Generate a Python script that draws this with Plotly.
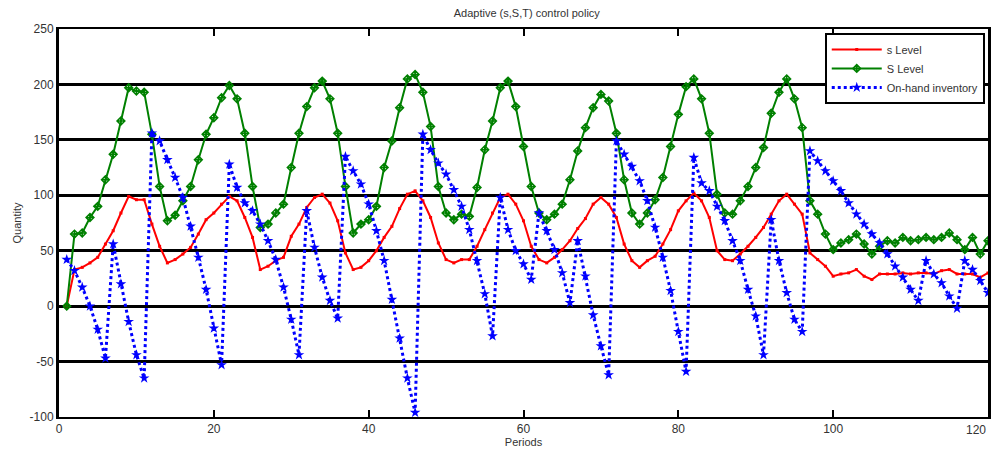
import plotly.graph_objects as go

periods = list(range(1, 121))

s_level = [0, 33, 35, 39, 44, 56, 68, 84, 99, 96, 96, 74, 54, 39, 42, 47, 53, 65, 78, 84,
           92, 99, 95, 80, 62, 33, 36, 41, 44, 63, 74, 89, 98, 101, 93, 77, 48, 33, 35, 41,
           50, 62, 72, 88, 101, 104, 95, 80, 57, 42, 39, 42, 42, 54, 69, 84, 98, 101, 92, 77,
           54, 42, 39, 44, 51, 59, 70, 79, 92, 98, 92, 80, 56, 41, 35, 41, 45, 56, 69, 86,
           95, 102, 95, 80, 50, 42, 41, 47, 54, 62, 71, 83, 95, 101, 92, 83, 48, 42, 36, 27,
           29, 30, 33, 27, 24, 29, 29, 29, 30, 29, 30, 30, 29, 32, 33, 29, 29, 29, 26, 30]

S_level = [0, 65, 66, 80, 90, 114, 137, 167, 197, 194, 193, 155, 108, 77, 82, 95, 108, 132, 155, 170,
           188, 199, 187, 156, 108, 71, 74, 84, 92, 125, 156, 180, 197, 203, 187, 156, 108, 66, 74, 78,
           90, 125, 149, 179, 205, 209, 193, 162, 108, 84, 78, 83, 81, 107, 141, 167, 197, 203, 180, 144,
           108, 84, 78, 83, 92, 114, 140, 161, 179, 191, 185, 156, 114, 84, 74, 84, 96, 116, 144, 173,
           198, 205, 187, 156, 101, 84, 83, 95, 108, 125, 143, 174, 193, 205, 187, 161, 95, 83, 65, 51,
           57, 60, 65, 56, 47, 54, 59, 57, 62, 59, 60, 62, 60, 62, 66, 60, 51, 62, 47, 59]

on_hand = [42, 32, 17, 0, -21, -47, 56, 20, -14, -44, -65, 156, 149, 132, 116, 98, 72, 44, 15, -20,
           -53, 128, 107, 93, 86, 74, 59, 42, 17, -12, -44, 86, 53, 26, 5, -11, 135, 122, 110, 92,
           68, 41, 6, -29, -65, -96, 155, 141, 129, 119, 105, 90, 69, 41, 11, -27, 98, 69, 50, 38,
           24, 84, 68, 51, 30, 3, 59, 27, -8, -36, -62, 149, 137, 126, 113, 95, 71, 44, 14, -23,
           -59, 134, 111, 104, 90, 77, 59, 41, 15, -9, -44, 78, 41, 12, -12, -23, 140, 131, 122, 113,
           104, 93, 83, 74, 65, 57, 47, 36, 26, 15, 5, 41, 29, 21, 9, -2, 41, 33, 23, 12]

x_ticks = [0, 20, 40, 60, 80, 100, 120]
y_ticks = [-100, -50, 0, 50, 100, 150, 200, 250]

FONT = "Liberation Sans, Arial, sans-serif"
TXT = "#333333"

fig = go.Figure()
fig.add_trace(go.Scatter(
    x=periods, y=s_level, name="s Level", mode="lines+markers",
    line=dict(color="#ff0000", width=2),
    marker=dict(symbol="square", size=3, color="#ff0000")))
fig.add_trace(go.Scatter(
    x=periods, y=S_level, name="S Level", mode="lines+markers",
    line=dict(color="#008000", width=2),
    marker=dict(symbol="diamond-cross-open", size=6, color="#008000", line=dict(width=1.5))))
fig.add_trace(go.Scatter(
    x=periods, y=on_hand, name="On-hand inventory", mode="lines+markers",
    line=dict(color="#0000ff", width=3, dash="dot"),
    marker=dict(symbol="star", size=8, color="#0000ff")))

# last x tick label sits at the figure edge; keep it fully visible
fig.add_annotation(x=x_ticks[-1], xref="x", y=0, yref="paper", yshift=-4,
                   text=str(x_ticks[-1]), showarrow=False, yanchor="top", xanchor="right",
                   font=dict(size=12, color=TXT))

fig.update_layout(
    width=994, height=451,
    margin=dict(l=59, r=3, t=29, b=34),
    paper_bgcolor="white", plot_bgcolor="white",
    font=dict(family=FONT, size=11, color=TXT),
    title=dict(text="Adaptive (s,S,T) control policy", x=0.53, xanchor="center",
               y=0.97, yanchor="middle", font=dict(size=11, color=TXT)),
    showlegend=True,
    legend=dict(x=0.9965, xanchor="right", y=0.99, yanchor="top",
                bgcolor="white", bordercolor="black", borderwidth=2,
                font=dict(size=11, color=TXT), tracegroupgap=0, itemwidth=50),
)
fig.update_xaxes(
    range=[0, 120], tickvals=x_ticks[:-1], ticktext=[str(v) for v in x_ticks[:-1]],
    showgrid=False, zeroline=False,
    showline=True, linecolor="black", linewidth=2, mirror="ticks",
    ticks="inside", ticklen=7, tickwidth=2, tickcolor="black",
    title=dict(text="Periods", standoff=2, font=dict(size=11, color=TXT)),
    tickfont=dict(size=12, color=TXT))
fig.update_yaxes(
    range=[-100, 250], tickvals=y_ticks, ticktext=[str(v) for v in y_ticks],
    showgrid=True, gridcolor="black", gridwidth=2.5,
    zeroline=True, zerolinecolor="black", zerolinewidth=2.5,
    showline=True, linecolor="black", linewidth=3, mirror="ticks",
    ticks="inside", ticklen=4, tickwidth=1, tickcolor="black",
    title=dict(text="Quantity", standoff=6, font=dict(size=11, color=TXT)),
    tickfont=dict(size=12, color=TXT))

fig.write_html("out.html", config={"displayModeBar": False},
               post_script="document.body.style.margin='0px';document.body.style.overflow='hidden';")
